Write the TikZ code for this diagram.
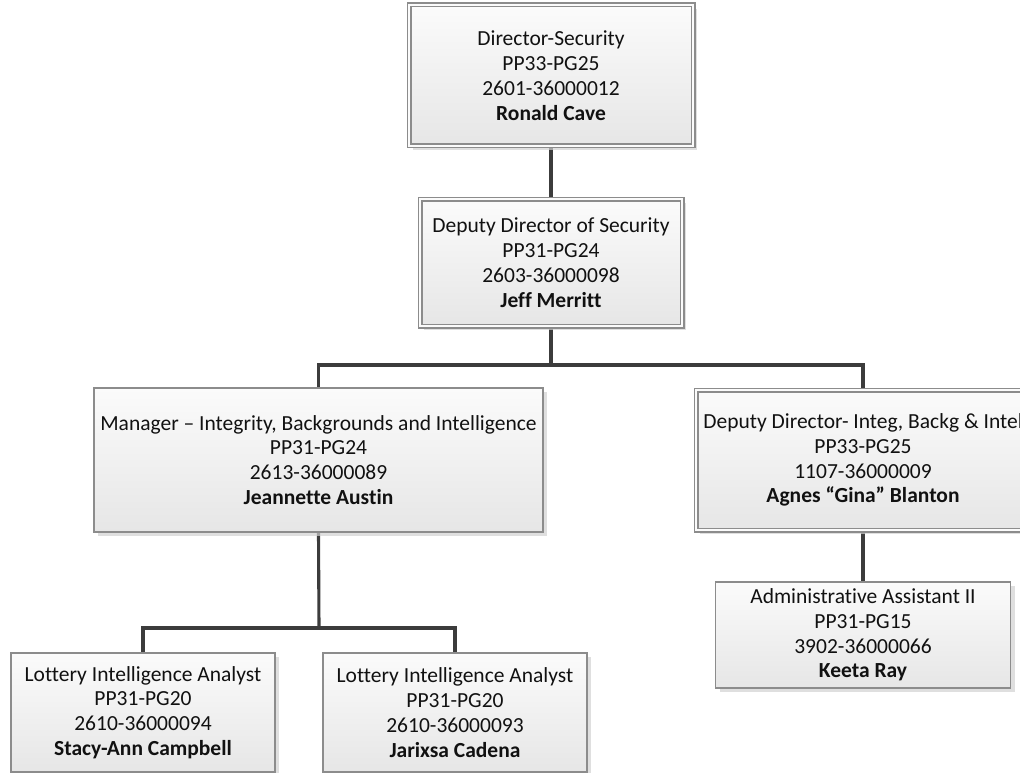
\documentclass[tikz,border=0pt]{standalone}
\usepackage{fontspec}
\setmainfont[Ligatures={TeX,NoCommon}]{Carlito}
\usetikzlibrary{shadows,backgrounds}

\definecolor{boxline}{HTML}{8C8C8C}
\definecolor{linkline}{HTML}{3C3C3C}
\definecolor{boxtop}{HTML}{FBFBFB}
\definecolor{boxbottom}{HTML}{E6E6E6}
\definecolor{textcol}{HTML}{111111}

\tikzset{
  orgbox/.style={draw=boxline, line width=1.3pt, rectangle,
    top color=boxtop, bottom color=boxbottom,
    inner sep=0pt, align=center, text=textcol,
    font=\fontsize{21.5}{24.8}\selectfont,
    drop shadow={shadow xshift=4pt, shadow yshift=-4pt, fill=black!18, opacity=0.7}},
  dblbox/.style={orgbox, double=boxtop, double distance=2.6pt, line width=1.2pt},
  link/.style={draw=linkline, line width=3.1pt}
}

\begin{document}
\begin{tikzpicture}[x=1pt, y=-1pt]
\useasboundingbox (0,0) rectangle (1020,773);
\clip (0,0) rectangle (1020,773);

% top of the chart
\node[dblbox, minimum width=284, minimum height=141] (dir) at (551,75.5)
  {Director-Security\\PP33-PG25\\2601-36000012\\\textbf{Ronald Cave}};
\node[dblbox, minimum width=262, minimum height=127] (dep) at (551,262.5)
  {Deputy Director of Security\\PP31-PG24\\2603-36000098\\\textbf{Jeff Merritt}};

% second level
\node[orgbox, minimum width=449, minimum height=144] (mgr) at (318.5,460)
  {Manager – Integrity, Backgrounds and Intelligence\\PP31-PG24\\2613-36000089\\\textbf{Jeannette Austin}};
\node[dblbox, minimum width=334, minimum height=140] (ddi) at (863,460)
  {Deputy Director- Integ, Backg \& Intel\\PP33-PG25\\1107-36000009\\\textbf{Agnes “Gina” Blanton}};

% third level
\node[orgbox, minimum width=295, minimum height=106] (adm) at (863,635)
  {Administrative Assistant II\\PP31-PG15\\3902-36000066\\\textbf{Keeta Ray}};
\node[orgbox, minimum width=264, minimum height=119] (an1) at (143,712.5)
  {Lottery Intelligence Analyst\\PP31-PG20\\2610-36000094\\\textbf{Stacy-Ann Campbell}};
\node[orgbox, minimum width=264, minimum height=119] (an2) at (455,712.5)
  {Lottery Intelligence Analyst\\PP31-PG20\\2610-36000093\\\textbf{Jarixsa Cadena}};

% reporting lines
\coordinate (bus1) at (551,365);
\coordinate (bus2) at (319,628);
\begin{scope}[on background layer]
  \draw[link] (dir.south) -- (dep.north);
  \draw[link] (dep.south) -- (bus1);
  \draw[link] (mgr.north) |- (bus1) -| (ddi.north);
  \draw[link] (mgr.south) -- (bus2);
  \draw[link] (an1.north) |- (bus2) -| (an2.north);
  \draw[link] (ddi.south) -- (adm.north);
\end{scope}
\end{tikzpicture}
\end{document}
